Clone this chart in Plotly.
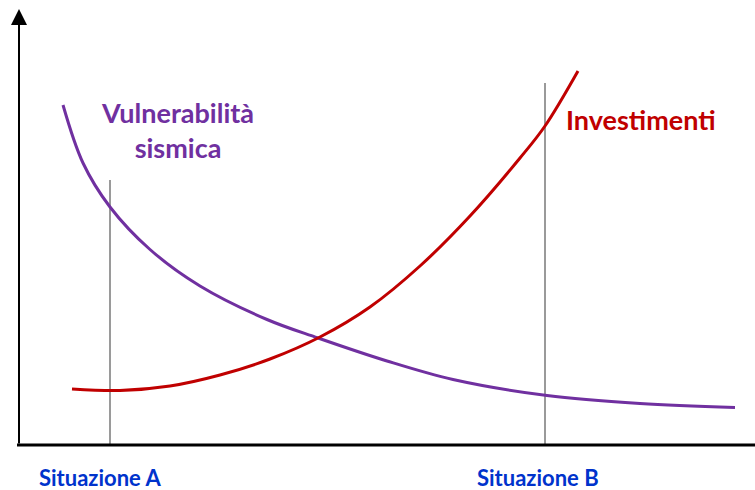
import plotly.graph_objects as go

H = 490  # canvas height used to flip picture-read vertical positions

# Vulnerabilità sismica curve (x, vertical position, top-down)
vuln_x = [63, 83, 110, 150, 200, 267, 318, 387, 453, 547, 640, 735]
vuln_y_px = [105, 163, 207, 249.5, 286, 319.5, 338, 361, 379.5, 395.5, 403.5, 407.5]

# Investimenti curve
inv_x = [72, 120, 170, 220, 270, 320, 370, 420, 470, 520, 545, 578]
inv_y_px = [389, 390.5, 386, 375, 359, 337, 307, 266, 216, 158, 126, 71]

# Situations
sit_labels = ["Situazione A", "Situazione B"]
sit_x = [110, 545]
sit_top_px = [180, 83]
sit_label_x = [100, 538]
sit_label_y_px = [477, 477]

vuln_y = [H - v for v in vuln_y_px]
inv_y = [H - v for v in inv_y_px]

fig = go.Figure()
axis_y = H - 445

for sx, st in zip(sit_x, sit_top_px):
    fig.add_trace(go.Scatter(x=[sx, sx], y=[axis_y, H - st], mode="lines",
                             line=dict(color="#9a9a9a", width=2), hoverinfo="skip", showlegend=False))

fig.add_trace(go.Scatter(x=vuln_x, y=vuln_y, mode="lines",
                         line=dict(color="#7030A0", width=3, shape="spline", smoothing=1.0),
                         showlegend=False))
fig.add_trace(go.Scatter(x=inv_x, y=inv_y, mode="lines",
                         line=dict(color="#C00000", width=3, shape="spline", smoothing=1.0),
                         showlegend=False))

# axes
fig.add_trace(go.Scatter(x=[17, 755], y=[axis_y, axis_y], mode="lines", line=dict(color="black", width=3),
                         hoverinfo="skip", showlegend=False))
fig.add_annotation(x=19, y=H - 9, ax=19, ay=axis_y, xref="x", yref="y", axref="x", ayref="y",
                   showarrow=True, arrowhead=2, arrowsize=1.6, arrowwidth=2, arrowcolor="black", text="")

font_family = "Lato, 'Open Sans', sans-serif"
fig.add_annotation(x=177, y=H - 130, text="<b>Vulnerabilità<br>sismica</b>", showarrow=False,
                   font=dict(family=font_family, size=27, color="#7030A0"), align="center")
fig.add_annotation(x=641, y=H - 119, text="<b>Investimenti</b>", showarrow=False,
                   font=dict(family=font_family, size=27, color="#C00000"))
for lab, lx, ly in zip(sit_labels, sit_label_x, sit_label_y_px):
    fig.add_annotation(x=lx, y=H - ly, text="<b>%s</b>" % lab, showarrow=False,
                       font=dict(family=font_family, size=22, color="#0033CC"))

fig.update_layout(width=755, height=490, margin=dict(l=0, r=0, t=0, b=0),
                  plot_bgcolor="white", paper_bgcolor="white",
                  xaxis=dict(range=[0, 755], visible=False, fixedrange=True),
                  yaxis=dict(range=[0, H], visible=False, fixedrange=True))
fig.write_html("out.html", config={"displayModeBar": False},
               post_script="document.body.style.margin='0';")
